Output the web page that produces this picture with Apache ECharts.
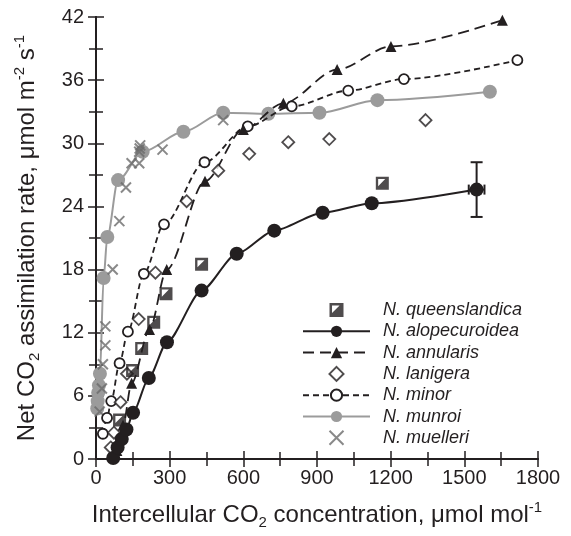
<!DOCTYPE html>
<html><head><meta charset="utf-8">
<script src="https://cdn.jsdelivr.net/npm/echarts@6/dist/echarts.min.js"></script>
<style>html,body{margin:0;padding:0;background:#fff}#c{width:571px;height:536px}</style>
</head><body><div id="c"></div>
<script>
// ---- data ----
const xRange = [0, 1800], xStep = 300;
const yRange = [0, 42], yStep = 6;

const queenslandicaX = [96, 149, 186, 235, 285, 430, 1166];
const queenslandicaY = [3.7, 8.4, 10.5, 13.0, 15.7, 18.5, 26.2];

const alopecuroideaX = [70, 88, 105, 124, 151, 215, 289, 430, 573, 726, 923, 1123, 1550];
const alopecuroideaY = [0.1, 1.1, 1.9, 2.8, 4.4, 7.7, 11.1, 16.0, 19.5, 21.7, 23.4, 24.3, 25.6];
// error bar on last alopecuroidea point: [x, y, yLow, yHigh, xLow, xHigh]
const alopecuroideaErr = [1550, 25.6, 23.0, 28.2, 1518, 1582];

const annularisX = [85, 110, 145, 218, 288, 444, 600, 763, 982, 1201, 1655];
const annularisY = [0.8, 3.2, 7.2, 12.3, 18.0, 26.4, 31.3, 33.8, 37.0, 39.2, 41.7];

const lanigeraX = [60, 73, 100, 126, 174, 242, 369, 498, 624, 783, 950, 1342];
const lanigeraY = [1.1, 2.5, 5.4, 8.1, 13.3, 17.7, 24.5, 27.4, 29.0, 30.1, 30.4, 32.2];

const minorX = [28, 45, 62, 96, 130, 195, 277, 442, 618, 797, 1027, 1254, 1716];
const minorY = [2.4, 3.9, 5.5, 9.1, 12.1, 17.6, 22.3, 28.2, 31.6, 33.5, 35.0, 36.1, 37.9];

const munroiX = [5, 7, 9, 12, 16, 31, 46, 90, 190, 356, 518, 702, 910, 1146, 1604];
const munroiY = [4.8, 5.5, 6.3, 7.0, 8.1, 17.2, 21.1, 26.5, 29.2, 31.1, 32.9, 32.8, 32.9, 34.1, 34.9];

const muelleriX = [15, 24, 28, 38, 38, 68, 95, 122, 145, 176, 176, 178, 180, 271, 518];
const muelleriY = [4.5, 6.7, 9.0, 10.8, 12.6, 18.0, 22.6, 25.8, 28.1, 28.1, 29.2, 29.5, 29.8, 29.4, 32.2];

const names = ['N. queenslandica', 'N. alopecuroidea', 'N. annularis', 'N. lanigera', 'N. minor', 'N. munroi', 'N. muelleri'];

// ---- chart ----
const zip = (a, b) => a.map((v, i) => [v, b[i]]);
const INK = '#231f20';
const GREY = '#9b9b9b';
const FONT = '"Liberation Sans", Arial, Helvetica, sans-serif';

const halfSquare = 'path://M0,0L10,0L10,10L0,10Z M1.8,1.8L1.8,7.2L7.2,1.8Z';
const diamondPath = 'path://M5,0L10,5L5,10L0,5Z';
const crossPath = 'path://M0,0L10,10M10,0L0,10';

const axisCommon = {
  type: 'value',
  axisLine: { show: true, lineStyle: { color: INK, width: 2 } },
  axisTick: { show: true, inside: true, length: 8, lineStyle: { color: INK, width: 1.5 } },
  minorTick: { show: true, splitNumber: 2, length: 7, lineStyle: { color: INK, width: 1.5 } },
  splitLine: { show: false },
  minorSplitLine: { show: false }
};
const labelStyle = { fontSize: 20, color: INK, fontFamily: FONT, formatter: v => String(v) };
const nameRich = {
  a: { fontSize: 24, lineHeight: 30, fontFamily: FONT, color: INK },
  sub: { fontSize: 15, lineHeight: 16, verticalAlign: 'bottom', fontFamily: FONT, color: INK },
  sup: { fontSize: 15, lineHeight: 16, verticalAlign: 'top', fontFamily: FONT, color: INK }
};

const chart = echarts.init(document.getElementById('c'), null, { renderer: 'canvas' });
chart.setOption({
  backgroundColor: '#fff',
  animation: false,
  grid: { left: 96, right: 33, top: 17, bottom: 77, containLabel: false },
  xAxis: [
    Object.assign({}, axisCommon, {
      min: xRange[0], max: xRange[1], interval: xStep, position: 'bottom',
      axisLabel: Object.assign({ margin: 9 }, labelStyle),
      name: '{a|Intercellular CO}{sub|2}{a| concentration, μmol mol}{sup|-1}',
      nameLocation: 'middle', nameGap: 41,
      nameTextStyle: { fontFamily: FONT, color: INK, rich: nameRich }
    }),
    Object.assign({}, axisCommon, {
      min: xRange[0], max: xRange[1], interval: xStep, position: 'top',
      axisLabel: { show: false }
    })
  ],
  yAxis: [
    Object.assign({}, axisCommon, {
      min: yRange[0], max: yRange[1], interval: yStep, position: 'left',
      axisLabel: Object.assign({ margin: 12 }, labelStyle),
      name: '{a|Net CO}{sub|2}{a| assimilation rate, μmol m}{sup|-2}{a| s}{sup|-1}',
      nameLocation: 'middle', nameGap: 54,
      nameTextStyle: { fontFamily: FONT, color: INK, rich: nameRich }
    }),
    Object.assign({}, axisCommon, {
      min: yRange[0], max: yRange[1], interval: yStep, position: 'right',
      axisLabel: { show: false }
    })
  ],
  legend: {
    orient: 'vertical', left: 297, top: 296,
    itemWidth: 67, itemHeight: 14, itemGap: 3.3,
    data: names,
    textStyle: { fontSize: 18, lineHeight: 18, fontStyle: 'italic', color: INK, fontFamily: FONT, padding: [0, 0, 0, 8] }
  },
  series: [
    {
      name: names[5], type: 'line', data: zip(munroiX, munroiY),
      smooth: 0.3, smoothMonotone: 'x',
      symbol: 'circle', symbolSize: 14,
      lineStyle: { color: GREY, width: 2 },
      itemStyle: { color: GREY }, z: 2
    },
    {
      name: names[6], type: 'scatter', data: zip(muelleriX, muelleriY),
      symbol: crossPath, symbolSize: 10,
      itemStyle: { color: 'rgba(0,0,0,0)', borderColor: '#6b6b6b', borderWidth: 2 }, z: 3
    },
    {
      name: names[4], type: 'line', data: zip(minorX, minorY),
      smooth: 0.3, smoothMonotone: 'x',
      symbol: 'circle', symbolSize: 10,
      lineStyle: { color: INK, width: 1.8, type: [6, 4] },
      itemStyle: { color: '#fff', borderColor: INK, borderWidth: 1.8 }, z: 4
    },
    {
      name: names[2], type: 'line', data: zip(annularisX, annularisY),
      smooth: 0.3, smoothMonotone: 'x',
      symbol: 'triangle', symbolSize: 11,
      lineStyle: { color: INK, width: 1.8, type: [11, 6] },
      itemStyle: { color: INK }, z: 4
    },
    {
      name: names[3], type: 'scatter', data: zip(lanigeraX, lanigeraY),
      symbol: diamondPath, symbolSize: 12,
      itemStyle: { color: '#fff', borderColor: INK, borderWidth: 1.8 }, z: 5
    },
    {
      name: names[1], type: 'line', data: zip(alopecuroideaX, alopecuroideaY),
      smooth: 0.25, smoothMonotone: 'x',
      symbol: 'circle', symbolSize: 14,
      lineStyle: { color: INK, width: 2 },
      itemStyle: { color: INK }, z: 6
    },
    {
      name: names[0], type: 'scatter', data: zip(queenslandicaX, queenslandicaY),
      symbol: halfSquare, symbolSize: 13,
      itemStyle: { color: INK }, z: 6
    },
    {
      type: 'custom', z: 7, silent: true,
      data: [alopecuroideaErr],
      renderItem: function (params, api) {
        const x = api.value(0), y = api.value(1);
        const lo = api.coord([x, api.value(2)]), hi = api.coord([x, api.value(3)]);
        const xl = api.coord([api.value(4), y]), xh = api.coord([api.value(5), y]);
        const cap = 6, st = { stroke: INK, lineWidth: 2 };
        return {
          type: 'group', children: [
            { type: 'line', shape: { x1: lo[0], y1: lo[1], x2: hi[0], y2: hi[1] }, style: st },
            { type: 'line', shape: { x1: lo[0] - cap, y1: lo[1], x2: lo[0] + cap, y2: lo[1] }, style: st },
            { type: 'line', shape: { x1: hi[0] - cap, y1: hi[1], x2: hi[0] + cap, y2: hi[1] }, style: st },
            { type: 'line', shape: { x1: xl[0], y1: xl[1], x2: xh[0], y2: xh[1] }, style: st },
            { type: 'line', shape: { x1: xl[0], y1: xl[1] - 5, x2: xl[0], y2: xl[1] + 5 }, style: st },
            { type: 'line', shape: { x1: xh[0], y1: xh[1] - 5, x2: xh[0], y2: xh[1] + 5 }, style: st }
          ]
        };
      }
    }
  ]
});
</script>
</body></html>
